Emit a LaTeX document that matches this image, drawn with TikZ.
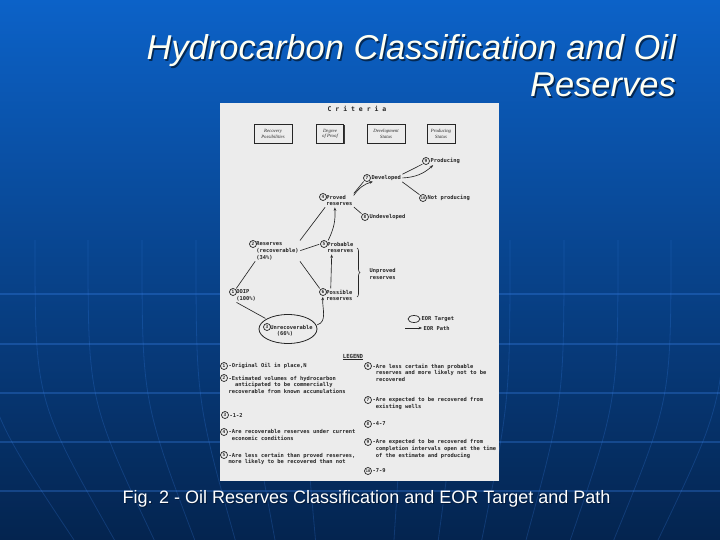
\documentclass[tikz,border=0pt]{standalone}
\usepackage{fontspec}
\setmainfont{Liberation Sans}
\newfontfamily\letterfont{DejaVu Sans Mono}
\newfontfamily\boxfont{Liberation Serif}
\usetikzlibrary{positioning,arrows.meta,decorations.pathreplacing,shadows,shapes.geometric}

\definecolor{slidetop}{HTML}{0C62C8}
\definecolor{slidemid}{HTML}{0A4C9E}
\definecolor{slidebot}{HTML}{04244F}
\definecolor{gridblue}{HTML}{3C86F0}
\definecolor{paper}{HTML}{ECECEC}
\definecolor{ink}{HTML}{262626}
\definecolor{titlecol}{HTML}{FFFFF2}

\tikzset{
  slidetitle/.style={anchor=base east, inner sep=0pt, font=\itshape\fontsize{34.5}{40}\selectfont},
  lbl/.style={inner sep=0.5pt, text=ink, align=left, font=\letterfont\bfseries\fontsize{5.4}{6.6}\selectfont},
  num/.style={circle, draw=ink, line width=0.7pt, inner sep=0pt, minimum size=7pt, text=ink,
    font=\letterfont\bfseries\fontsize{4.4}{4.4}\selectfont},
  critbox/.style={draw=ink, line width=0.6pt, fill=paper, minimum width=38pt, minimum height=19pt,
    inner sep=1pt, align=center, text=ink, font=\boxfont\itshape\fontsize{4.8}{5.6}\selectfont,
    drop shadow={shadow xshift=1pt, shadow yshift=-1pt, fill=ink, opacity=0.9}},
  link/.style={draw=ink, line width=0.65pt, shorten <=1pt, shorten >=1pt},
  flow/.style={link, -{Stealth[length=3.4pt,width=2.6pt]}},
  gridline/.style={draw=gridblue, opacity=0.3, line width=1.1pt}
}

\begin{document}
\begin{tikzpicture}[x=1pt,y=-1pt]

  \useasboundingbox (0,0) rectangle (720,540);

  % Slide background
  \shade[top color=slidetop, middle color=slidemid, bottom color=slidebot] (0,0) rectangle (720,540);
  \foreach \gy in {294,344,393,442,491}
    \draw[gridline] (0,\gy) -- (720,\gy);
  \foreach \d in {50,104,157,211,265,318,372} {
    \draw[gridline, opacity=0.22, line width=0.8pt] ({353-\d},240) .. controls ({353-\d},400) .. ({353-0.75*\d},540);
    \draw[gridline, opacity=0.22, line width=0.8pt] ({353+\d},240) .. controls ({353+\d},400) .. ({353+0.82*\d},540);
  }

  % Title
  \node[slidetitle, text=black, opacity=0.55] (titleshA) at (677.5,61.5) {Hydrocarbon Classification and Oil};
  \node[slidetitle, text=titlecol] (titleA) at (676,60) {Hydrocarbon Classification and Oil};
  \node[slidetitle, text=black, opacity=0.55] (titleshB) at (677.5,98.5) {Reserves};
  \node[slidetitle, text=titlecol] (titleB) at (676,97) {Reserves};

  % Scanned figure
  \fill[paper] (220,103) rectangle (499,481);
  \node[text=ink, inner sep=0pt, font=\letterfont\bfseries\fontsize{6.5}{7}\selectfont] (crit) at (357,109) {C r i t e r i a};

  % Criteria boxes
  \node[critbox] (recov) at (273,134) {Recovery\\Possibilities};
  \node[critbox, minimum width=27pt] (proof) at (330,134) {Degree\\of Proof};
  \node[critbox] (devst) at (386,134) {Development\\Status};
  \node[critbox, minimum width=28pt] (prodst) at (441,134) {Producing\\Status};

  % Classification nodes
  \node[num] (n9) at (426,161) {9};
  \node[lbl, anchor=west] (prodlbl) at (n9.east) {Producing};
  \node[num] (n7) at (367,178) {7};
  \node[lbl, anchor=west] (devlbl) at (n7.east) {Developed};
  \node[num, font=\letterfont\bfseries\fontsize{3.6}{3.6}\selectfont] (n10) at (423,198) {10};
  \node[lbl, anchor=west] (notlbl) at (n10.east) {Not producing};
  \node[num] (n4) at (323,197) {4};
  \node[lbl, anchor=north west] (provlbl) at (n4.north east) {Proved\\reserves};
  \node[num] (n8) at (365,217) {8};
  \node[lbl, anchor=west] (undevlbl) at (n8.east) {Undeveloped};
  \node[num] (n2) at (253,244) {2};
  \node[lbl, anchor=north west] (reslbl) at (n2.north east) {Reserves\\(recoverable)\\(34\%)};
  \node[num] (n5) at (324,244) {5};
  \node[lbl, anchor=north west] (problbl) at (n5.north east) {Probable\\reserves};
  \node[num] (n1) at (233,292) {1};
  \node[lbl, anchor=north west] (ooiplbl) at (n1.north east) {OOIP\\(100\%)};
  \node[num] (n6) at (323,292) {6};
  \node[lbl, anchor=north west] (posslbl) at (n6.north east) {Possible\\reserves};
  \node[ellipse, draw=ink, line width=0.8pt, minimum width=58pt, minimum height=29pt, inner sep=0pt] (unrec) at (288,329) {};
  \node[num] (n3) at (267,327) {3};
  \node[lbl, anchor=north west] (unreclbl) at (n3.north east) {Unrecoverable\\\ \ (66\%)};
  \node[lbl, anchor=north west] (unproved) at (369,268) {Unproved\\reserves};
  \coordinate (bracetop) at (357,248);
  \coordinate (bracebot) at (357,297);

  % Connectors
  \draw[link] (n1.north east) -- (reslbl.south west);
  \draw[link] (ooiplbl.south west) -- (unrec.155);
  \draw[flow] (unrec.8) to[out=15, in=-95] (n6.south);
  \draw[link] (reslbl.north east) -- (provlbl.south west);
  \draw[link] (reslbl.east) -- (n5.west);
  \draw[link] (reslbl.south east) -- (n6.north west);
  \draw[flow] ([xshift=5pt]posslbl.north west) -- ([xshift=5pt]problbl.south west);
  \draw[flow] ([xshift=1pt]problbl.north west) to[bend right=15] ([xshift=9pt]provlbl.south west);
  \draw[link] (provlbl.north east) -- (n7.south west);
  \draw[flow] ([yshift=-2pt]provlbl.north east) to[bend left=20] ([xshift=3pt]devlbl.south west);
  \draw[link] (provlbl.south east) -- (n8.north west);
  \draw[link] (devlbl.north east) -- (n9.south west);
  \draw[flow] (devlbl.east) to[bend right=20] ([xshift=4pt]prodlbl.south west);
  \draw[link] (devlbl.south east) -- (n10.north west);
  \draw[ink, line width=0.6pt, decorate, decoration={brace, amplitude=3pt}] (bracetop) -- (bracebot);

  % EOR key
  \node[ellipse, draw=ink, line width=0.7pt, minimum width=12pt, minimum height=7pt, inner sep=0pt] (eortgt) at (414,319) {};
  \node[lbl, anchor=west] (eortgtlbl) at (421,319) {EOR Target};
  \coordinate (eorstart) at (405,328);
  \node[lbl, anchor=west] (eorpath) at (423,328) {EOR Path};
  \draw[flow, shorten <=0pt] (eorstart) -- (eorpath.west);

  % Legend
  \node[lbl, font=\letterfont\bfseries\fontsize{5.6}{6.6}\selectfont] (legtitle) at (353,357) {\underline{LEGEND}};
  \node[num] (l1) at (224,366) {1};
  \node[lbl, anchor=west] (t1) at (228,366) {-Original Oil in place,N};
  \node[num] (l2) at (224,378) {2};
  \node[lbl, anchor=north west] (t2) at (228,375) {-Estimated volumes of hydrocarbon\\\ \ anticipated to be commercially\\recoverable from known accumulations};
  \node[num] (l3) at (225,415) {3};
  \node[lbl, anchor=west] (t3) at (229,415) {-1-2};
  \node[num] (l4) at (224,432) {4};
  \node[lbl, anchor=north west] (t4) at (228,429) {-Are recoverable reserves under current\\\ economic conditions};
  \node[num] (l5) at (224,455) {5};
  \node[lbl, anchor=north west] (t5) at (228,452) {-Are less certain than proved reserves,\\more likely to be recovered than not};
  \node[num] (l6) at (368,366) {6};
  \node[lbl, anchor=north west] (t6) at (372,363) {-Are less certain than probable\\\ reserves and more likely not to be\\\ recovered};
  \node[num] (l7) at (368,400) {7};
  \node[lbl, anchor=north west] (t7) at (372,397) {-Are expected to be recovered from\\\ existing wells};
  \node[num] (l8) at (368,424) {8};
  \node[lbl, anchor=west] (t8) at (372,424) {-4-7};
  \node[num] (l9) at (368,442) {9};
  \node[lbl, anchor=north west] (t9) at (372,439) {-Are expected to be recovered from\\\ completion intervals open at the time\\\ of the estimate and producing};
  \node[num, font=\letterfont\bfseries\fontsize{3.6}{3.6}\selectfont] (l10) at (368,471) {10};
  \node[lbl, anchor=west] (t10) at (372,471) {-7-9};

  % Caption
  \node[anchor=base, inner sep=0pt, text=black, opacity=0.35, font=\fontsize{18}{22}\selectfont] (capsh) at (367.5,504) {Fig. 2 - Oil Reserves Classification and EOR Target and Path};
  \node[anchor=base, inner sep=0pt, text=white, font=\fontsize{18}{22}\selectfont] (caption) at (366.5,503) {Fig. 2 - Oil Reserves Classification and EOR Target and Path};

\end{tikzpicture}
\end{document}
